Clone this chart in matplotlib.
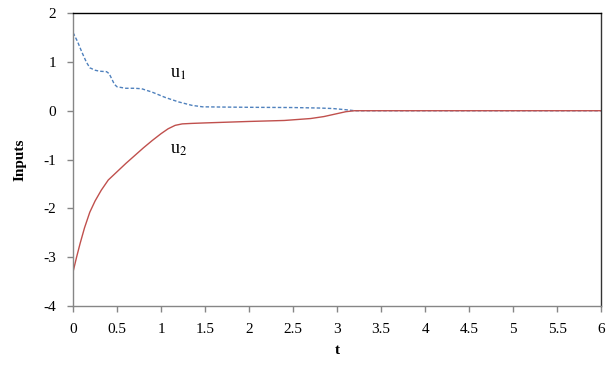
import matplotlib
matplotlib.use("Agg")
import matplotlib.pyplot as plt

# Valores
t_u1 = [0.0, 0.05, 0.1, 0.15, 0.19, 0.25, 0.3, 0.38, 0.41, 0.44, 0.47, 0.5, 0.6, 0.7, 0.78, 0.9, 1.05, 1.2, 1.35, 1.47, 1.7, 2.0, 2.5, 2.8, 2.95, 3.1, 3.2, 6.0]
u1 = [1.6, 1.42, 1.2, 1.0, 0.88, 0.83, 0.81, 0.8, 0.76, 0.65, 0.54, 0.49, 0.46, 0.46, 0.45, 0.38, 0.27, 0.18, 0.11, 0.08, 0.075, 0.07, 0.065, 0.055, 0.045, 0.02, 0.0, 0.0]

t_u2 = [0.0, 0.04, 0.08, 0.13, 0.19, 0.25, 0.32, 0.4, 0.5, 0.6, 0.7, 0.8, 0.9, 1.0, 1.08, 1.16, 1.24, 1.35, 1.5, 2.0, 2.4, 2.7, 2.85, 3.0, 3.1, 3.2, 6.0]
u2 = [-3.3, -3.0, -2.72, -2.4, -2.08, -1.85, -1.63, -1.42, -1.25, -1.08, -0.92, -0.76, -0.61, -0.47, -0.37, -0.3, -0.27, -0.26, -0.25, -0.22, -0.2, -0.16, -0.12, -0.06, -0.02, 0.0, 0.0]

x_ticks = [0, 0.5, 1, 1.5, 2, 2.5, 3, 3.5, 4, 4.5, 5, 5.5, 6]
y_ticks = [-4, -3, -2, -1, 0, 1, 2]

plt.rcParams["font.family"] = ["Liberation Serif", "DejaVu Serif"]
plt.rcParams["mathtext.fontset"] = "stix"
plt.rcParams["axes.unicode_minus"] = False

fig = plt.figure(figsize=(6.09, 3.65), dpi=100)
ax = fig.add_axes([0.12, 0.162, 0.867, 0.802])

ax.plot(t_u1, u1, color="#4f81bd", linestyle=(0, (2.5, 1.5)), linewidth=1.0)
ax.plot(t_u2, u2, color="#c0504d", linestyle="-", linewidth=1.0)

ax.text(1.2, 0.76, r"u$_1$", fontsize=13, ha="center", va="center")
ax.text(1.2, -0.8, r"u$_2$", fontsize=13, ha="center", va="center")

ax.set_xlim(0, 6)
ax.set_ylim(-4, 2)
ax.set_xticks(x_ticks)
ax.set_xticklabels([f"{v:g}" for v in x_ticks])
ax.set_yticks(y_ticks)

gray = "#868686"
ax.spines["left"].set_color(gray)
ax.spines["bottom"].set_color(gray)
ax.spines["top"].set_color("black")
ax.spines["right"].set_color("#333333")
for s in ax.spines.values():
    s.set_linewidth(1.0)
ax.tick_params(axis="both", direction="out", color=gray, length=4, width=1,
               labelsize=11, pad=8)

ax.set_xlabel("t", fontsize=11, fontweight="bold", labelpad=6)
ax.set_ylabel("Inputs", fontsize=11, fontweight="bold", labelpad=12)

fig.savefig("out.png", dpi=100)
